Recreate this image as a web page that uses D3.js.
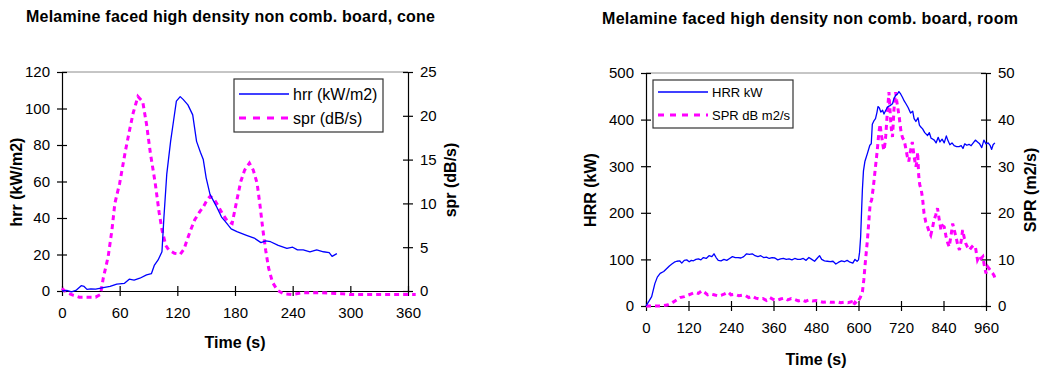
<!DOCTYPE html>
<html>
<head>
<meta charset="utf-8">
<script src="https://cdn.jsdelivr.net/npm/d3@7"></script>
<style>
  body { margin: 0; background: #fff; }
  svg { font-family: "Liberation Sans", Arial, sans-serif; }
</style>
</head>
<body>
<svg id="chart" width="1045" height="372"></svg>
<script>
// cone test: hrr (kW/m2) against time (s)
const coneHrrTime = [0, 5, 10, 15, 20, 23, 26, 30, 35, 43, 50, 57, 65, 70, 75, 81, 88, 93, 96, 100, 104, 106, 109, 113, 116, 119, 123, 126, 131, 136, 140, 144, 147, 150, 154, 158, 161, 166, 170, 176, 182, 192, 200, 207, 212, 217, 225, 234, 240, 245, 251, 258, 265, 272, 278, 281, 286];
const coneHrr = [0, 0.3, -0.5, 0.5, 2.9, 2.5, 0.9, 1.2, 1, 1.8, 2.5, 3.8, 4.2, 6.5, 6, 7, 8.8, 9.5, 14, 17, 21.5, 40, 64, 82, 93, 104, 106.5, 105, 102, 96.5, 82, 76, 72, 62, 53, 49, 46, 40.5, 38, 34, 32.5, 30.5, 29, 26.5, 27.5, 27, 25, 23.4, 24, 22.5, 22.5, 21.5, 22.5, 21.5, 21, 19, 20.5];

// cone test: spr (dB/s)
const coneSprTime = [0, 5, 12, 18, 25, 35, 40, 43, 48, 52, 55, 60, 66, 70, 74, 79, 84, 88, 92, 97, 101, 104, 108, 111, 117, 123, 127, 130, 134, 138, 143, 147, 151, 154, 158, 162, 167, 172, 177, 182, 186, 190, 195, 199, 203, 206, 209, 212, 215, 219, 224, 230, 240, 250, 270, 290, 300, 330, 360, 368];
const coneSpr = [0.3, -0.2, -0.5, -0.7, -0.7, -0.7, -0.4, 1.5, 3.9, 7, 10, 12.3, 16, 18.2, 20.3, 22.2, 21.6, 19, 15.7, 12.3, 9, 7, 5.2, 4.7, 4.3, 4.2, 4.8, 5.8, 7, 8.1, 9, 9.6, 10.4, 10.8, 10.5, 9.8, 8.8, 8, 7.7, 10.4, 12.5, 13.8, 14.6, 13.8, 12.3, 9.8, 7, 4.6, 2.6, 1, 0.1, -0.3, -0.4, -0.2, -0.2, -0.3, -0.4, -0.4, -0.4, -0.4];

// room test: HRR (kW)
const roomHrrTime = [0, 8, 16, 25, 32, 40, 50, 58, 66, 73, 80, 87, 95, 101, 108, 115, 122, 128, 134, 141, 148, 155, 162, 170, 178, 186, 192, 198, 204, 212, 220, 228, 236, 244, 252, 260, 268, 276, 284, 292, 300, 308, 316, 324, 332, 340, 348, 356, 364, 372, 380, 388, 396, 404, 412, 420, 428, 436, 444, 452, 460, 468, 476, 484, 490, 496, 504, 512, 520, 528, 536, 544, 552, 560, 568, 576, 584, 590, 596, 600, 603, 606, 609, 611, 614, 618, 625, 632, 636, 639, 644, 648, 652, 655, 659, 663, 668, 672, 677, 683, 689, 696, 700, 705, 710, 714, 719, 724, 729, 734, 740, 747, 753, 757, 762, 768, 772, 776, 781, 787, 795, 800, 805, 810, 814, 819, 825, 830, 836, 842, 848, 852, 858, 864, 870, 877, 884, 890, 895, 900, 906, 912, 918, 924, 930, 936, 942, 948, 954, 960, 966, 972, 976, 980, 985];
const roomHrr = [0, 10, 20, 48, 62, 70, 74, 80, 86, 90, 94, 96, 97, 92, 98, 99, 95, 98, 97, 100, 101, 99, 104, 102, 108, 106, 112, 104, 98, 97, 100, 98, 102, 106, 104, 104, 103, 106, 112, 111, 112, 108, 106, 108, 104, 105, 102, 104, 103, 99, 101, 102, 100, 101, 99, 102, 100, 100, 102, 98, 104, 100, 96, 103, 108, 100, 97, 96, 95, 96, 90, 94, 97, 95, 98, 94, 92, 100, 96, 99, 115, 148, 210, 250, 290, 310, 327, 345, 348, 390, 398, 402, 415, 428, 425, 416, 420, 412, 420, 428, 430, 434, 445, 452, 455, 460, 455, 448, 440, 434, 426, 414, 418, 402, 396, 404, 388, 384, 380, 372, 366, 372, 360, 358, 356, 350, 362, 352, 358, 350, 365, 356, 346, 350, 344, 342, 342, 344, 338, 348, 345, 347, 344, 350, 356, 352, 348, 340, 356, 348, 350, 344, 336, 346, 350];

// room test: SPR (m2/s)
const roomSprTime = [0, 20, 40, 60, 72, 84, 96, 108, 118, 128, 138, 148, 158, 166, 174, 182, 192, 202, 212, 222, 232, 240, 250, 262, 272, 282, 290, 300, 310, 320, 330, 340, 350, 360, 370, 380, 390, 400, 410, 420, 430, 440, 450, 460, 470, 480, 490, 500, 510, 520, 530, 540, 550, 560, 570, 580, 585, 590, 595, 600, 605, 611, 615, 620, 625, 630, 633, 637, 641, 644, 648, 651, 653, 656, 659, 661, 664, 667, 670, 672, 675, 677, 680, 683, 686, 689, 691, 694, 696, 698, 700, 703, 705, 708, 710, 713, 715, 718, 721, 725, 729, 733, 738, 742, 746, 752, 757, 762, 765, 767, 770, 773, 777, 781, 785, 790, 795, 800, 804, 809, 813, 818, 823, 828, 833, 838, 842, 847, 852, 856, 861, 866, 870, 875, 880, 885, 890, 894, 899, 903, 908, 913, 918, 924, 930, 936, 942, 946, 951, 955, 960, 965, 969, 974, 979, 983, 987];
const roomSpr = [0, 0, 0, 0.2, 0.6, 1.2, 1.8, 2.0, 2.3, 2.6, 2.9, 2.7, 3.3, 2.9, 2.4, 2.6, 2.4, 2.2, 2.3, 2.6, 3.0, 2.4, 2.5, 2.2, 2.3, 2.2, 1.8, 2.1, 1.7, 1.5, 1.6, 1.2, 1.8, 1.4, 1.2, 1.5, 1.7, 1.3, 1.6, 1.4, 1.1, 1.3, 1.0, 1.3, 1.1, 1.2, 1.0, 0.8, 0.9, 0.8, 0.8, 0.9, 0.7, 0.8, 0.7, 0.9, 0.1, 0.8, 0.5, 1.2, 1.8, 3, 5.6, 10, 14, 19, 22, 22.7, 25, 27, 29.9, 32, 33.4, 36, 38, 39, 37, 35.6, 34, 33.4, 35, 36.6, 40, 43, 45.9, 42, 39.5, 37, 36.3, 39, 42, 44.5, 45.9, 44, 43, 41.5, 40.6, 38.5, 37, 36, 35.6, 34, 32, 31, 33, 35.2, 32, 29.9, 31, 33, 28, 26, 25, 23, 19.9, 18, 17, 15.8, 15.2, 16.8, 18.4, 19.5, 21, 18.5, 16.3, 17.2, 17, 15, 13.5, 12.7, 15, 17.7, 16.4, 14.9, 13.2, 12, 14, 16.3, 14.5, 13.4, 12.6, 12, 12.5, 13, 12.7, 9.9, 10.8, 10.2, 10.6, 8.8, 7, 8.4, 8, 7.5, 7, 6.5, 5.6];

const coneXTicks = [0, 60, 120, 180, 240, 300, 360];
const coneLeftTicks = [0, 20, 40, 60, 80, 100, 120];
const coneRightTicks = [0, 5, 10, 15, 20, 25];
const roomXTicks = [0, 120, 240, 360, 480, 600, 720, 840, 960];
const roomLeftTicks = [0, 100, 200, 300, 400, 500];
const roomRightTicks = [0, 10, 20, 30, 40, 50];

const svg = d3.select("#chart");
const BLUE = "#0000ff";
const MAGENTA = "#ff00ff";

const zip = (a, b) => a.map((t, i) => [t, b[i]]);

function drawChart(c) {
  const g = svg.append("g");
  const x = d3.scaleLinear().domain(c.xDomain).range([c.left, c.right]);
  const yL = d3.scaleLinear().domain(c.yLeftDomain).range([c.bottom, c.top]);
  const yR = d3.scaleLinear().domain(c.yRightDomain).range([c.bottom, c.top]);

  // title (stretched a little, the original is spaced wider)
  g.append("text")
    .attr("x", c.titleX).attr("y", c.titleY)
    .attr("textLength", c.titleW).attr("lengthAdjust", "spacing")
    .style("font-size", "16px").style("font-weight", "bold")
    .text(c.title);

  // gray top border of the plot area
  g.append("line")
    .attr("x1", c.left).attr("x2", c.right)
    .attr("y1", c.top).attr("y2", c.top)
    .style("stroke", "#8c8c8c").style("stroke-width", 1);

  const xAxis = g.append("g")
    .attr("transform", `translate(0,${c.bottom})`)
    .call(d3.axisBottom(x).tickValues(c.xTicks).tickSize(0).tickSizeOuter(0).tickPadding(16));
  xAxis.selectAll(".tick").append("line").attr("y1", -5).attr("y2", 5);

  const leftAxis = g.append("g")
    .attr("transform", `translate(${c.left},0)`)
    .call(d3.axisLeft(yL).tickValues(c.yLeftTicks).tickSize(0).tickSizeOuter(0).tickPadding(12));
  leftAxis.selectAll(".tick").append("line").attr("x1", -5).attr("x2", 5);

  const rightAxis = g.append("g")
    .attr("transform", `translate(${c.right},0)`)
    .call(d3.axisRight(yR).tickValues(c.yRightTicks).tickSize(0).tickSizeOuter(0).tickPadding(12));
  rightAxis.selectAll(".tick").append("line").attr("x1", -5).attr("x2", 5);

  for (const a of [xAxis, leftAxis, rightAxis]) {
    a.selectAll("text").style("font-size", "15px").style("fill", "#000")
      .style("font-family", "'Liberation Sans', Arial, sans-serif");
    a.selectAll("line").style("stroke", "#000").style("stroke-width", 1.2);
    a.select(".domain").style("stroke", "#000").style("stroke-width", 1.2);
  }

  // axis titles
  g.append("text")
    .attr("x", c.xTitlePos[0]).attr("y", c.xTitlePos[1])
    .attr("text-anchor", "middle")
    .style("font-size", "16px").style("font-weight", "bold")
    .text(c.xTitle);
  g.append("text")
    .attr("transform", `translate(${c.yLeftTitlePos[0]},${c.yLeftTitlePos[1]}) rotate(-90)`)
    .attr("text-anchor", "middle").attr("dy", "0.35em")
    .style("font-size", "16px").style("font-weight", "bold")
    .text(c.yLeftTitle);
  g.append("text")
    .attr("transform", `translate(${c.yRightTitlePos[0]},${c.yRightTitlePos[1]}) rotate(-90)`)
    .attr("text-anchor", "middle").attr("dy", "0.35em")
    .style("font-size", "16px").style("font-weight", "bold")
    .text(c.yRightTitle);

  // series
  const lineL = d3.line().x(d => x(d[0])).y(d => yL(d[1]));
  const lineR = d3.line().x(d => x(d[0])).y(d => yR(d[1]));

  g.append("path")
    .attr("d", lineR(c.sprData))
    .style("fill", "none").style("stroke", MAGENTA)
    .style("stroke-width", 3).style("stroke-dasharray", "5,4");

  g.append("path")
    .attr("d", lineL(c.hrrData))
    .style("fill", "none").style("stroke", BLUE)
    .style("stroke-width", 1.3).style("stroke-linejoin", "round");

  // legend
  const lg = c.legend;
  g.append("rect")
    .attr("x", lg.x).attr("y", lg.y).attr("width", lg.w).attr("height", lg.h)
    .style("fill", "#fff").style("stroke", "#333").style("stroke-width", 1.2);
  lg.items.forEach((it, i) => {
    const yy = lg.y + lg.rowY[i];
    g.append("line")
      .attr("x1", lg.x + 5).attr("x2", lg.x + 5 + lg.sampleW)
      .attr("y1", yy).attr("y2", yy)
      .style("stroke", it.color).style("stroke-width", it.width)
      .style("stroke-dasharray", it.dash);
    g.append("text")
      .attr("x", lg.x + lg.sampleW + 9).attr("y", yy).attr("dy", "0.35em")
      .style("font-size", lg.fontSize)
      .text(it.label);
  });
}

drawChart({
  title: "Melamine faced high density non comb. board, cone",
  titleX: 26, titleY: 22, titleW: 409,
  left: 62, right: 408, top: 72, bottom: 291,
  xDomain: [0, 360], yLeftDomain: [0, 120], yRightDomain: [0, 25],
  xTicks: coneXTicks, yLeftTicks: coneLeftTicks, yRightTicks: coneRightTicks,
  xTitle: "Time (s)", xTitlePos: [235, 348],
  yLeftTitle: "hrr (kW/m2)", yLeftTitlePos: [16, 182],
  yRightTitle: "spr (dB/s)", yRightTitlePos: [450, 180],
  hrrData: zip(coneHrrTime, coneHrr),
  sprData: zip(coneSprTime, coneSpr),
  legend: {
    x: 234, y: 79, w: 149, h: 53, sampleW: 50, fontSize: "16px", rowY: [15, 39],
    items: [
      { label: "hrr (kW/m2)", color: BLUE, width: 1.3, dash: null },
      { label: "spr (dB/s)", color: MAGENTA, width: 3, dash: "7,7" }
    ]
  }
});

drawChart({
  title: "Melamine faced high density non comb. board, room",
  titleX: 602, titleY: 24, titleW: 416,
  left: 646, right: 986, top: 73, bottom: 306,
  xDomain: [0, 960], yLeftDomain: [0, 500], yRightDomain: [0, 50],
  xTicks: roomXTicks, yLeftTicks: roomLeftTicks, yRightTicks: roomRightTicks,
  xTitle: "Time (s)", xTitlePos: [816, 365],
  yLeftTitle: "HRR (kW)", yLeftTitlePos: [590, 190],
  yRightTitle: "SPR (m2/s)", yRightTitlePos: [1030, 190],
  hrrData: zip(roomHrrTime, roomHrr),
  sprData: zip(roomSprTime, roomSpr),
  legend: {
    x: 653, y: 80, w: 140, h: 48, sampleW: 50, fontSize: "13px", rowY: [12, 35],
    items: [
      { label: "HRR kW", color: BLUE, width: 1.3, dash: null },
      { label: "SPR dB m2/s", color: MAGENTA, width: 3, dash: "6,6" }
    ]
  }
});
</script>
</body>
</html>
